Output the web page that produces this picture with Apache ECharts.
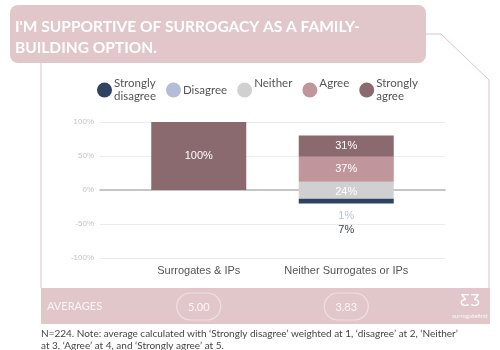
<!doctype html>
<html lang="en">
<head>
<meta charset="utf-8">
<title>surrogacy support</title>
<script src="https://cdn.jsdelivr.net/npm/echarts@6/dist/echarts.min.js"></script>
</head>
<body style="margin:0">
<div id="chart" style="width:500px;height:350px;"></div>
<script>
var categories = ['Surrogates & IPs', 'Neither Surrogates or IPs'];
var stronglyDisagree = [0, 7];
var disagree = [0, 1];
var neither = [0, 24];
var agree = [0, 37];
var stronglyAgree = [100, 31];
var averages = ['5.00', '3.83'];
var yTicks = [-100, -50, 0, 50, 100];

var pink = '#e1c7ca';
var font = 'Liberation Sans';

function pct(values) {
    return function (p) {
        var v = values[p.dataIndex];
        return v ? v + '%' : '';
    };
}

var legendNames = {
    'Strongly disagree': 'Strongly\ndisagree',
    'Disagree': 'Disagree',
    'Neither': 'Neither\n ',
    'Agree': 'Agree\n ',
    'Strongly agree': 'Strongly\nagree'
};

var myChart = echarts.init(document.getElementById('chart'));

var option = {
    animation: false,
    legend: {
        data: ['Strongly disagree', 'Disagree', 'Neither', 'Agree', 'Strongly agree'],
        left: 92,
        top: 72,
        icon: 'circle',
        itemWidth: 15,
        itemHeight: 15,
        itemGap: 10,
        selectedMode: false,
        formatter: function (name) { return legendNames[name]; },
        textStyle: { color: '#555', fontSize: 11.5, fontFamily: 'Lato', lineHeight: 13, padding: [0, 0, 0, -3] }
    },
    grid: [
        { left: 100, right: 55, top: 122, height: 136 },
        { left: 125, right: 80, top: 122, height: 136 }
    ],
    xAxis: [
        {
            gridIndex: 0, type: 'category', data: [''],
            axisLine: { onZero: true, lineStyle: { color: '#b5b5b5', width: 1.5 } },
            axisTick: { show: false }, axisLabel: { show: false }
        },
        {
            gridIndex: 1, type: 'category', data: categories,
            axisLine: { show: false }, axisTick: { show: false },
            axisLabel: { interval: 0, color: '#555', fontSize: 11, fontFamily: font, margin: 7 }
        }
    ],
    yAxis: [
        {
            gridIndex: 0, type: 'value',
            min: yTicks[0], max: yTicks[yTicks.length - 1], interval: yTicks[1] - yTicks[0],
            axisLabel: { formatter: '{value}%', color: '#c4c4c4', fontSize: 8, fontFamily: font, margin: 6 },
            splitLine: { lineStyle: { color: '#ececec' } },
            axisLine: { show: false }, axisTick: { show: false }
        },
        {
            gridIndex: 1, type: 'value',
            min: yTicks[0], max: yTicks[yTicks.length - 1],
            show: false, splitLine: { show: false }
        }
    ],
    series: [
        {
            name: 'Neither', type: 'bar', stack: 'a', xAxisIndex: 1, yAxisIndex: 1,
            barWidth: 95,
            data: neither.map(function (v) { return v / 2; }),
            itemStyle: { color: '#d0d0d0' },
            label: {
                show: true, position: 'insideBottom', distance: 0, offset: [0, 7],
                color: '#fff', fontSize: 11, fontFamily: font, formatter: pct(neither)
            }
        },
        {
            name: 'Neither', type: 'bar', stack: 'a', xAxisIndex: 1, yAxisIndex: 1,
            data: neither.map(function (v) { return -v / 2; }),
            itemStyle: { color: '#d0d0d0' }
        },
        {
            name: 'Disagree', type: 'bar', stack: 'a', xAxisIndex: 1, yAxisIndex: 1,
            data: disagree.map(function (v) { return -v; }),
            itemStyle: { color: '#b3bdd6' },
            label: {
                show: true, position: 'bottom', distance: 12,
                color: '#b9c2d8', fontSize: 11, fontFamily: font, formatter: pct(disagree)
            }
        },
        {
            name: 'Strongly disagree', type: 'bar', stack: 'a', xAxisIndex: 1, yAxisIndex: 1,
            data: stronglyDisagree.map(function (v) { return -v; }),
            itemStyle: { color: '#2f4361' },
            label: {
                show: true, position: 'bottom', distance: 21,
                color: '#3b3f48', fontSize: 11, fontFamily: font, formatter: pct(stronglyDisagree)
            }
        },
        {
            name: 'Agree', type: 'bar', stack: 'a', xAxisIndex: 1, yAxisIndex: 1,
            data: agree,
            itemStyle: { color: '#c0959b' },
            label: { show: true, position: 'inside', color: '#fff', fontSize: 11, fontFamily: font, formatter: pct(agree) }
        },
        {
            name: 'Strongly agree', type: 'bar', stack: 'a', xAxisIndex: 1, yAxisIndex: 1,
            data: stronglyAgree,
            itemStyle: { color: '#8b6a6f' },
            label: { show: true, position: 'inside', color: '#fff', fontSize: 11, fontFamily: font, formatter: pct(stronglyAgree) }
        }
    ]
};

myChart.setOption(option);

// frame, title and the averages band
var graphics = [
    { type: 'polyline', shape: { points: [[426, 34], [441, 34], [489, 80], [489, 288]] }, style: { stroke: '#dcc3c6', lineWidth: 1, fill: null } },
    { type: 'line', shape: { x1: 41, y1: 63, x2: 41, y2: 288 }, style: { stroke: '#dcc3c6', lineWidth: 1 } },
    { type: 'rect', shape: { x: 10, y: 5, width: 416, height: 58, r: 8 }, style: { fill: pink } },
    {
        type: 'text', x: 15, y: 16,
        style: {
            text: "I'M SUPPORTIVE OF SURROGACY AS A FAMILY-\nBUILDING OPTION.",
            fill: '#fff', font: 'bold 15.5px Lato', lineHeight: 21
        }
    },
    { type: 'rect', shape: { x: 41, y: 288, width: 449, height: 36 }, style: { fill: pink } },
    { type: 'text', x: 47, y: 306, style: { text: 'AVERAGES', fill: 'rgba(255,255,255,0.8)', font: '11px Lato', verticalAlign: 'middle' } },
    { type: 'text', x: 470, y: 302, style: { text: 'ƸƷ', fill: '#fff', font: '15px "DejaVu Sans"', align: 'center', verticalAlign: 'middle' } },
    { type: 'text', x: 470, y: 316, style: { text: 'surrogatefirst', fill: 'rgba(255,255,255,0.85)', font: '6px Lato', align: 'center', verticalAlign: 'middle' } },
    {
        type: 'text', x: 41, y: 328,
        style: {
            text: "N=224. Note: average calculated with \u2018Strongly disagree\u2019 weighted at 1, \u2018disagree\u2019 at 2, \u2018Neither\u2019\nat 3, \u2018Agree\u2019 at 4, and \u2018Strongly agree\u2019 at 5.",
            fill: '#444', font: '10px Lato', lineHeight: 12
        }
    }
];

averages.forEach(function (a, i) {
    var cx = myChart.convertToPixel({ xAxisIndex: 1 }, categories[i]);
    graphics.push({ type: 'rect', shape: { x: cx - 22, y: 293, width: 44, height: 27, r: 13.5 }, style: { fill: null, stroke: 'rgba(255,255,255,0.45)', lineWidth: 1.2 } });
    graphics.push({ type: 'text', x: cx, y: 307, style: { text: a, fill: 'rgba(255,255,255,0.85)', font: '11px Lato', align: 'center', verticalAlign: 'middle' } });
});

myChart.setOption({ graphic: graphics });
</script>
</body>
</html>
